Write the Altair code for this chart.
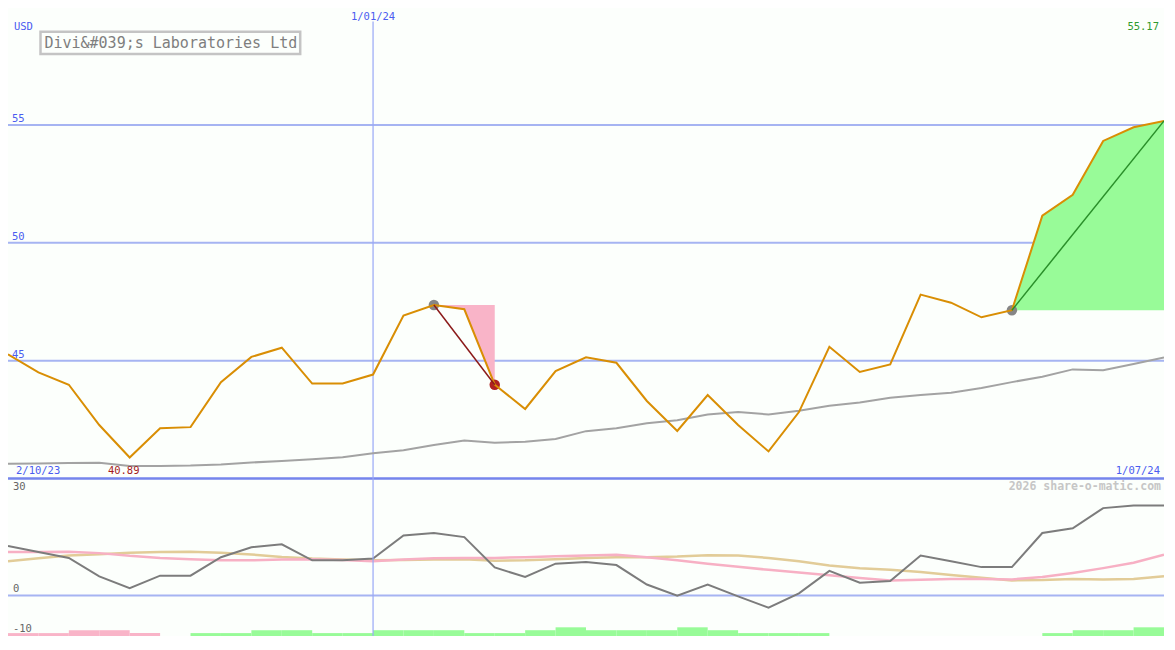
import altair as alt
import pandas as pd

# ---------------- layout helpers (reference is 1175 x 650) ----------------
W, H = 1156, 628
SX, SY = W / 1175, H / 650


def px(v):
    return round(v * SX, 1)


def py(v):
    return round(v * SY, 1)


FONT = "DejaVu Sans Mono"
BLUE_TXT = "#4a5cf0"
GRID = "#a6b4f2"
SEP = "#7585ec"

# ---------------- text ----------------
title = "Divi&#039;s Laboratories Ltd"
currency = "USD"
start_label = "2/10/23"
mid_label = "1/01/24"
end_label = "1/07/24"
mid_idx = 12
low_label = "40.89"
last_label = "55.17"
watermark = "2026 share-o-matic.com"

# ---------------- data ----------------
price = [45.27, 44.50, 43.98, 42.27, 40.89, 42.13, 42.18, 44.09, 45.16, 45.55,
         44.03, 44.03, 44.41, 46.91, 47.36, 47.18, 43.98, 42.95, 44.56, 45.14,
         44.91, 43.29, 42.02, 43.54, 42.27, 41.15, 42.82, 45.59, 44.52, 44.84,
         47.80, 47.46, 46.84, 47.14, 51.15, 52.04, 54.32, 54.90, 55.17]

ma = [40.63, 40.64, 40.66, 40.67, 40.53, 40.53, 40.55, 40.60, 40.68, 40.74,
      40.82, 40.90, 41.07, 41.20, 41.42, 41.61, 41.52, 41.56, 41.68, 42.01,
      42.13, 42.34, 42.47, 42.72, 42.82, 42.72, 42.88, 43.09, 43.23, 43.43,
      43.54, 43.64, 43.84, 44.09, 44.32, 44.63, 44.59, 44.86, 45.14]

osc = [14.5, 12.7, 11.0, 5.6, 2.1, 5.8, 5.8, 11.2, 14.1, 15.0,
       10.3, 10.3, 10.8, 17.6, 18.3, 17.1, 8.2, 5.4, 9.3, 9.8,
       8.9, 3.2, -0.1, 3.2, -0.3, -3.6, 0.6, 7.2, 3.7, 4.2,
       11.7, 10.0, 8.3, 8.3, 18.3, 19.7, 25.6, 26.4, 26.4]

sig_pink = [12.7, 12.7, 12.8, 12.4, 11.6, 11.0, 10.6, 10.3, 10.3, 10.5,
            10.6, 10.4, 10.0, 10.5, 10.9, 11.0, 11.0, 11.2, 11.5, 11.7,
            11.9, 11.2, 10.3, 9.3, 8.4, 7.5, 6.7, 5.9, 5.1, 4.4,
            4.6, 4.8, 4.8, 4.7, 5.4, 6.6, 8.0, 9.6, 11.9]

sig_tan = [10.0, 10.9, 11.7, 12.1, 12.5, 12.7, 12.8, 12.5, 12.0, 11.3,
           10.8, 10.5, 10.3, 10.4, 10.5, 10.6, 10.2, 10.3, 10.6, 11.0,
           11.2, 11.2, 11.4, 11.8, 11.7, 11.0, 10.0, 8.8, 8.0, 7.5,
           6.9, 6.0, 5.2, 4.4, 4.5, 4.8, 4.7, 4.8, 5.6]

hist_levels = [-1, -1, -2, -2, -1, 0, 1, 1, 2, 2,
               1, 1, 2, 2, 2, 1, 1, 2, 3, 2,
               2, 2, 3, 2, 1, 1, 1, 0, 0, 0,
               0, 0, 0, 0, 1, 2, 2, 3]

price_ticks = [45, 50, 55]
panel_floor = 40
osc_ticks_upper = [30, 0]
osc_tick_lower = [-10]

sell_from, sell_to = 14, 16
buy_from, buy_to = 33, 38

# ---------------- frames ----------------
n = len(price)
df = pd.DataFrame({"i": list(range(n)), "price": price, "ma": ma, "osc": osc,
                   "pink": sig_pink, "tan": sig_tan})

xs = alt.Scale(domain=[0, n - 1], nice=False, zero=False)
ps = alt.Scale(domain=[33.32, 59.96], nice=False, zero=False)
oscs = alt.Scale(domain=[-11.9, 172.24], nice=False, zero=False)
hs = alt.Scale(domain=[0, 216.7], nice=False, zero=False)


def X(f):
    return alt.X(f"{f}:Q", scale=xs, axis=None)


def YP(f):
    return alt.Y(f"{f}:Q", scale=ps, axis=None)


def YO(f):
    return alt.Y(f"{f}:Q", scale=oscs, axis=None)


# ---------------- main (price) panel ----------------
grid_df = pd.DataFrame({"v": price_ticks, "label": [str(t) for t in price_ticks]})
grid = alt.Chart(grid_df).mark_rule(color=GRID, strokeWidth=2).encode(y=YP("v"))
grid_lbl = alt.Chart(grid_df).mark_text(
    align="left", baseline="middle", dy=-6, font=FONT, fontSize=10.5, color=BLUE_TXT
).encode(x=alt.value(px(4)), y=YP("v"), text="label:N")

sep = alt.Chart(pd.DataFrame({"v": [panel_floor]})).mark_rule(
    color=SEP, strokeWidth=2.5).encode(y=YP("v"))

vline = alt.Chart(pd.DataFrame({"i": [mid_idx]})).mark_rule(
    color="#98a8f6", strokeWidth=1.2
).encode(x=X("i"), y=alt.value(py(14)), y2=alt.value(H))

down = df.iloc[sell_from:sell_to + 1].assign(base=price[sell_from])
up = df.iloc[buy_from:buy_to + 1].assign(base=price[buy_from])
area_down = alt.Chart(down).mark_area(color="#f9b4c8", opacity=1).encode(
    x=X("i"), y=YP("price"), y2=alt.Y2("base:Q"))
area_up = alt.Chart(up).mark_area(color="#98fb98", opacity=1).encode(
    x=X("i"), y=YP("price"), y2=alt.Y2("base:Q"))

ma_line = alt.Chart(df).mark_line(color="#a3a3a3", strokeWidth=2).encode(
    x=X("i"), y=YP("ma"))
price_line = alt.Chart(df).mark_line(color="#d98e04", strokeWidth=2).encode(
    x=X("i"), y=YP("price"))

seg_down = pd.DataFrame({"i": [sell_from, sell_to], "p": [price[sell_from], price[sell_to]]})
seg_up = pd.DataFrame({"i": [buy_from, buy_to], "p": [price[buy_from], price[buy_to]]})
line_down = alt.Chart(seg_down).mark_line(color="#8b1a1a", strokeWidth=1.5).encode(
    x=X("i"), y=YP("p"))
line_up = alt.Chart(seg_up).mark_line(color="#2a8f2a", strokeWidth=1.5).encode(
    x=X("i"), y=YP("p"))

start_pts = pd.DataFrame({"i": [sell_from, buy_from], "p": [price[sell_from], price[buy_from]]})
end_pt = pd.DataFrame({"i": [sell_to], "p": [price[sell_to]]})
dots_gray = alt.Chart(start_pts).mark_circle(color="#868686", size=110, opacity=1).encode(
    x=X("i"), y=YP("p"))
dots_red = alt.Chart(end_pt).mark_circle(color="#b02020", size=110, opacity=1).encode(
    x=X("i"), y=YP("p"))


def txt(i, t, y, align, dx=0, color=BLUE_TXT, size=10.5, weight="normal"):
    return alt.Chart(pd.DataFrame({"i": [i], "t": [t]})).mark_text(
        align=align, baseline="middle", dx=dx, font=FONT, fontSize=size,
        color=color, fontWeight=weight
    ).encode(x=X("i"), y=alt.value(py(y)), text="t:N")


low_idx = price.index(min(price))
t_mid = txt(mid_idx, mid_label, 9, "center")
t_start = txt(0, start_label, 479, "left", dx=8)
t_end = txt(n - 1, end_label, 479, "right", dx=-4)
t_low = txt(low_idx, low_label, 479, "center", dx=-6, color="#a41c1c")
t_last = txt(n - 1, last_label, 20, "right", dx=-5, color="#2f9a2f")
t_wm = txt(n - 1, watermark, 496, "right", dx=-3, color="#c6c6c6", size=11.5, weight="bold")

one = pd.DataFrame({"t": [currency]})
t_usd = alt.Chart(one).mark_text(
    align="left", baseline="middle", font=FONT, fontSize=10.5, color=BLUE_TXT
).encode(x=alt.value(px(6)), y=alt.value(py(20)), text="t:N")

title_box = alt.Chart(pd.DataFrame({"t": [title]})).mark_rect(
    filled=False, stroke="#c4c4c4", strokeWidth=2.5
).encode(x=alt.value(px(33)), x2=alt.value(px(297)),
         y=alt.value(py(24.5)), y2=alt.value(py(47.5)))
title_txt = alt.Chart(pd.DataFrame({"t": [title]})).mark_text(
    align="left", baseline="middle", font=FONT, fontSize=15, color="#7e7e7e"
).encode(x=alt.value(px(37)), y=alt.value(py(36.5)), text="t:N")

main = alt.layer(
    grid, sep, vline, area_down, area_up, ma_line, dots_gray, dots_red,
    price_line, line_down, line_up, grid_lbl, t_mid, t_start, t_end, t_low,
    t_last, t_wm, t_usd, title_box, title_txt
)

# ---------------- oscillator panel ----------------
zero_rule = alt.Chart(pd.DataFrame({"v": [0]})).mark_rule(
    color=GRID, strokeWidth=2).encode(y=YO("v"))
tan_line = alt.Chart(df).mark_line(color="#e2cc98", strokeWidth=2.5).encode(
    x=X("i"), y=YO("tan"))
pink_line = alt.Chart(df).mark_line(color="#f7b0c4", strokeWidth=2.5).encode(
    x=X("i"), y=YO("pink"))
osc_line = alt.Chart(df).mark_line(color="#7c7c7c", strokeWidth=2).encode(
    x=X("i"), y=YO("osc"))

up_df = pd.DataFrame({"v": osc_ticks_upper, "label": [str(v) for v in osc_ticks_upper]})
lo_df = pd.DataFrame({"v": osc_tick_lower, "label": [str(v) for v in osc_tick_lower]})
osc_lbl_up = alt.Chart(up_df).mark_text(
    align="left", baseline="middle", dy=-6, font=FONT, fontSize=10.5, color="#666666"
).encode(x=alt.value(px(5)), y=YO("v"), text="label:N")
osc_lbl_lo = alt.Chart(lo_df).mark_text(
    align="left", baseline="middle", dy=-1, font=FONT, fontSize=10.5, color="#666666"
).encode(x=alt.value(px(5)), y=YO("v"), text="label:N")

osc_group = alt.layer(zero_rule, tan_line, pink_line, osc_line, osc_lbl_up, osc_lbl_lo)

# ---------------- histogram strip ----------------
hist_df = pd.DataFrame({
    "i": list(range(len(hist_levels))),
    "i2": list(range(1, len(hist_levels) + 1)),
    "h": [abs(v) for v in hist_levels],
    "dir": ["up" if v > 0 else "down" for v in hist_levels],
})
hist = alt.Chart(hist_df).transform_filter("datum.h > 0").mark_rect().encode(
    x=X("i"), x2=alt.X2("i2:Q"),
    y=alt.Y("h:Q", scale=hs, axis=None), y2=alt.datum(0),
    color=alt.Color("dir:N", scale=alt.Scale(domain=["down", "up"],
                                             range=["#f9b4c8", "#98fb98"]),
                    legend=None),
)

chart = alt.layer(hist, osc_group, main).resolve_scale(y="independent").properties(
    width=W, height=H, padding=0, background="#fcfffc",
    autosize=alt.AutoSizeParams(type="none"),
).configure_view(stroke=None)

chart.save("out.html", embed_options={"renderer": "svg", "actions": False})
